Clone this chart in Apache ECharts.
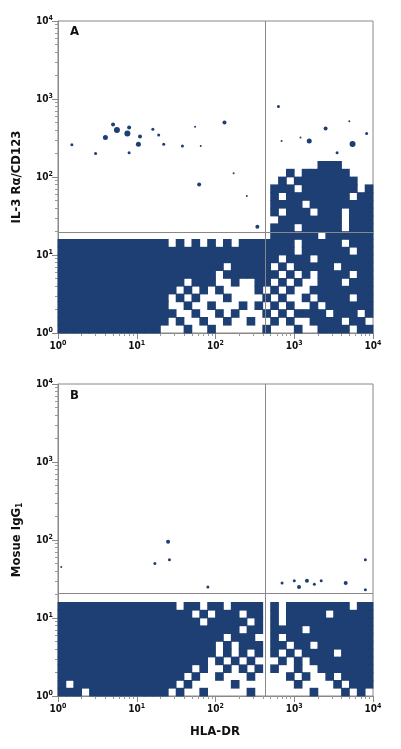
<!DOCTYPE html>
<html><head><meta charset="utf-8">
<script src="https://cdn.jsdelivr.net/npm/echarts@6/dist/echarts.min.js"></script>
<style>html,body{margin:0;padding:0;background:#fff}#c{width:401px;height:749px}</style>
</head><body><div id="c"></div>
<script>
// Density bitmaps: 40 columns (0.1 decade each, x 10^0..10^4), 40 rows (top = 10^4, bottom = 10^0)
// listed as filled column indices per row
const panelA = {
18:[33,34,35],19:[29,31,32,33,34,35,36],20:[28,'30-37'],21:[27,28,29,'31-37',39],
22:[27,'29-36',38,39],23:['27-30','32-39'],24:[27,29,30,31,33,34,35,37,38,39],
25:['28-35',37,38,39],26:['27-29','31-35','37-39'],27:['27-32','34-39'],
28:['0-13',15,17,19,21,'23-29','31-35','37-39'],29:['0-29','31-36',38,39],30:['0-27','29-31','33-39'],
31:['0-20','22-26',28,'30-34','36-39'],32:['0-19','21-27',29,31,'33-36',38,39],
33:['0-15','17-19',22,25,26,28,30,'33-35','37-39'],34:['0-14',16,18,20,25,27,29,'32-39'],
35:['0-13',15,17,21,26,28,31,'33-36',38,39],36:['0-13',16,19,23,25,27,29,32,'34-39'],
37:['0-14',17,20,22,26,28,'30-33','35-37',39],38:['0-13',15,18,21,24,27,29,'32-35',37,38],
39:['0-12',16,19,26,30,'33-36',38,39]
};
const panelB = {
28:['0-14',16,17,19,20,'22-25',27,'29-36',38,39],
29:['0-16',18,'20-22',24,25,27,'29-33','35-39'],30:['0-17','19-23',25,27,'29-39'],
31:['0-22',24,25,'27-30','32-39'],32:['0-20','22-24',27,'29-39'],
33:['0-19',21,'23-25',27,28,30,31,'33-39'],34:['0-19',21,23,25,27,29,'31-34','36-39'],
35:['0-18',20,22,24,28,30,'32-39'],36:['0-16',18,21,23,25,27,30,'33-39'],
37:['0-15',17,20,24,29,31,34,'36-39'],38:[0,'2-14',16,22,30,35,'37-39'],39:['0-2','4-13',15,18,24,32,36,38]
};
// isolated events [x, y, size]
const dotsA = [[1.5,260,3],[3,200,3],[4,320,5],[5,470,4],[5.6,400,6],[8,430,4],[7.6,360,6],[8,205,3],[11,330,4],[10.5,262,5],
 [16,410,3],[19,345,3],[22,262,3],[38,250,3],[55,440,2],[65,250,2],[130,500,4],[62,80,4],[170,112,2],[250,57,2],[340,23,4],
 [630,800,3],[690,290,2],[1550,290,5],[2500,420,4],[5500,265,6],[3500,205,3],[8300,360,3],[5000,520,2],[1200,320,2]];
const dotsB = [[25,95,4],[26,56,3],[17,50,3],[1.1,45,2],[80,25,3],[8000,56,3],[700,28,3],[1000,30,3],[1150,25,4],[1450,30,4],[1800,27,3],[2200,30,3],[4500,28,4],[8000,23,3]];
const tickExps = [0,1,2,3,4];
const quadA = {x:425, y:19.7};
const quadB = {x:425, y:21};
const yNames = ['IL-3 Rα/CD123', 'Mosue IgG{s|1}'];
const xName = 'HLA-DR';
const panelLabels = ['A','B'];

function cells(map){
  const out=[];
  for(const r in map){
    map[r].forEach(c=>{
      let a,b;
      if(typeof c==='string'){[a,b]=c.split('-').map(Number);}else{a=b=c;}
      for(let k=a;k<=b;k++){
        out.push([Math.pow(10,k/10),Math.pow(10,(40-(+r)-1)/10),Math.pow(10,(k+1)/10),Math.pow(10,(40-(+r))/10)]);
      }
    });
  }
  return out;
}
const FONT='"DejaVu Sans Condensed","DejaVu Sans",sans-serif';
function axisLabelRich(){return {b:{fontSize:10,fontWeight:'bold',fontFamily:FONT,color:'#111'},s:{fontSize:7,fontWeight:'bold',fontFamily:FONT,color:'#111',verticalAlign:'top',padding:[0,0,6,0]}};}
function makeAxis(type,gi){
  return {type:'log',logBase:10,min:1,max:10000,gridIndex:gi,
    axisLine:{show:true,lineStyle:{color:'#888',width:1}},
    axisTick:{show:true,length:6,inside:false,lineStyle:{color:'#888'}},
    minorTick:{show:true,splitNumber:9,length:3,lineStyle:{color:'#999'}},
    splitLine:{show:false},
    axisLabel:{formatter:v=>'{b|10}{s|'+Math.round(Math.log10(v))+'}',rich:axisLabelRich(),margin:type==='x'?7:5}};
}
const grids=[{left:58,top:21,width:315,height:312},{left:58,top:384,width:315,height:312}];
const series=[];
[panelA,panelB].forEach((p,gi)=>{
  const q=gi===0?quadA:quadB;
  series.push({type:'custom',xAxisIndex:gi,yAxisIndex:gi,data:cells(p),silent:true,
    renderItem:(params,api)=>{
      const p0=api.coord([api.value(0),api.value(1)]),p1=api.coord([api.value(2),api.value(3)]);
      return {type:'rect',shape:{x:p0[0]-0.4,y:p1[1]-0.4,width:p1[0]-p0[0]+0.8,height:p0[1]-p1[1]+0.8},style:{fill:'#1e3f73'}};
    }});
  series.push({type:'scatter',xAxisIndex:gi,yAxisIndex:gi,silent:true,data:gi===0?dotsA:dotsB,
    symbol:'circle',symbolSize:v=>v[2],itemStyle:{color:'#1e3f73',opacity:1}});
  series.push({type:'line',xAxisIndex:gi,yAxisIndex:gi,data:[],
    markLine:{silent:true,symbol:'none',label:{show:false},lineStyle:{color:'#888',width:1,type:'solid'},
      data:[{xAxis:q.x},{yAxis:q.y}]}});
});
const chart=echarts.init(document.getElementById('c'));
chart.setOption({
  animation:false,
  grid:grids.map(g=>Object.assign({show:true,borderColor:'#888',borderWidth:1,backgroundColor:'transparent'},g)),
  xAxis:[makeAxis('x',0),makeAxis('x',1)],
  yAxis:[makeAxis('y',0),makeAxis('y',1)],
  series:series,
  graphic:[
    {type:'text',left:70,top:25,style:{text:panelLabels[0],font:'bold 13px '+FONT,fill:'#111'}},
    {type:'text',left:70,top:389,style:{text:panelLabels[1],font:'bold 13px '+FONT,fill:'#111'}},
    {type:'text',x:17,y:177,rotation:Math.PI/2,style:{text:yNames[0],font:'bold 13px '+FONT,fill:'#111',align:'center',verticalAlign:'middle'}},
    {type:'text',x:17,y:540,rotation:Math.PI/2,style:{text:yNames[1],rich:{s:{fontSize:8,fontWeight:'bold',fontFamily:FONT,fill:'#111',verticalAlign:'bottom',padding:[6,0,0,0]}},font:'bold 13px '+FONT,fill:'#111',align:'center',verticalAlign:'middle'}},
    {type:'text',x:215,y:732,style:{text:xName,font:'bold 13px '+FONT,fill:'#111',align:'center',verticalAlign:'middle'}}
  ]
});
</script></body></html>
